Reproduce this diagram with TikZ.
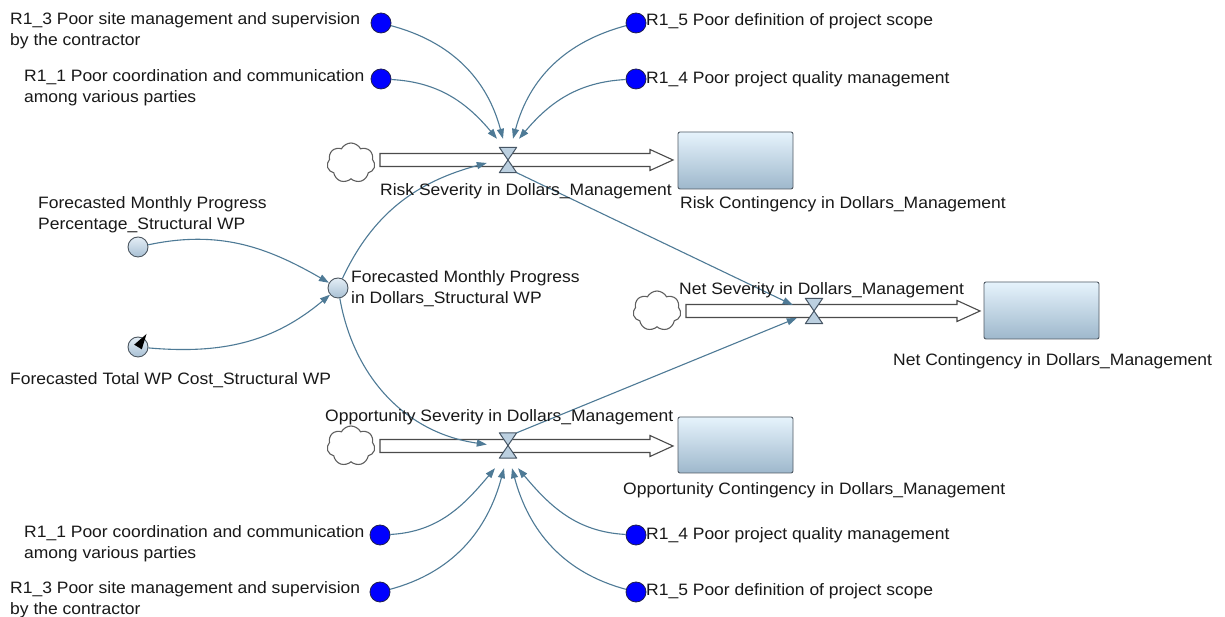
\documentclass[tikz,border=0pt]{standalone}
\usepackage{fontspec}
\setmainfont{Liberation Sans}[FakeStretch=1.06]
\usetikzlibrary{arrows.meta,shapes.symbols,calc}

\definecolor{linkcol}{RGB}{78,122,150}
\definecolor{txtcol}{RGB}{25,25,25}
\definecolor{pipecol}{RGB}{75,75,75}
\definecolor{riskfill}{RGB}{0,0,255}
\definecolor{riskdraw}{RGB}{30,30,80}
\definecolor{auxtop}{RGB}{228,238,246}
\definecolor{auxbot}{RGB}{168,192,212}
\definecolor{auxdraw}{RGB}{75,85,95}
\definecolor{stocktop}{RGB}{230,243,252}
\definecolor{stockbot}{RGB}{158,184,204}
\definecolor{stockdraw}{RGB}{80,90,100}
\definecolor{valvefill}{RGB}{188,208,224}
\definecolor{valvedraw}{RGB}{70,85,100}
\definecolor{cloudcol}{RGB}{95,95,95}

% flow pipe with hollow arrow head: #1 = start on the axis, #2 = tip
\newcommand\drawflowpipe[2]{%
  \draw[pipe] let \p1=(#1), \p2=(#2) in
    (\x1,\y1+6.5pt) -- (\x2-23pt,\y1+6.5pt) -- (\x2-23pt,\y1+10.5pt) -- (\x2,\y1)
    -- (\x2-23pt,\y1-10.5pt) -- (\x2-23pt,\y1-6.5pt) -- (\x1,\y1-6.5pt) -- cycle;}
% hourglass valve drawn inside the frame of node #1
\newcommand\drawvalve[1]{%
  \filldraw[fill=valvefill,draw=valvedraw,line width=1pt,line join=round]
    (#1.north west) -- (#1.north east) -- (#1.south west) -- (#1.south east) -- cycle;}

\begin{document}
\begin{tikzpicture}[x=1pt,y=1pt,
  txt/.style={inner sep=0pt,anchor=base west,align=left,text=txtcol,
              font=\fontsize{16.5}{20.5}\selectfont},
  riskvar/.style={circle,draw=riskdraw,fill=riskfill,minimum size=20pt,inner sep=0pt,line width=0.8pt},
  auxvar/.style={circle,draw=auxdraw,top color=auxtop,bottom color=auxbot,minimum size=20pt,inner sep=0pt,line width=0.9pt},
  stock/.style={rectangle,rounded corners=2pt,draw=stockdraw,top color=stocktop,bottom color=stockbot,
                minimum width=115pt,minimum height=57pt,inner sep=0pt,line width=0.9pt},
  source/.style={cloud,cloud puffs=7,cloud puff arc=125,aspect=1.25,draw=cloudcol,line width=1.1pt,
                 minimum width=48pt,minimum height=40pt,inner sep=0pt},
  valvebox/.style={minimum width=17pt,minimum height=25pt,inner sep=0pt},
  pipe/.style={draw=pipecol,fill=white,line width=1.1pt,line join=miter},
  link/.style={draw=linkcol,line width=1.1pt,-{Triangle[length=10pt,width=7pt]}},
]
\fill[white] (0,0) rectangle (1225,617);
\useasboundingbox (0,0) rectangle (1225,617);

% ---------- stocks, sources and flows ----------
\node[source] (rcl) at (351,454) {};
\node[source] (ncl) at (657,306) {};
\node[source] (ocl) at (351,171) {};

\node[stock] (rs) at (735.5,456.5) {};
\node[stock] (ns) at (1041.5,306.5) {};
\node[stock,minimum height=56pt] (os) at (735.5,172) {};

\coordinate (rp0) at (380,457);  \coordinate (rp1) at (673,457);
\coordinate (np0) at (686,306);  \coordinate (np1) at (980,306);
\coordinate (op0) at (380,171);  \coordinate (op1) at (673,171);
\drawflowpipe{rp0}{rp1}
\drawflowpipe{np0}{np1}
\drawflowpipe{op0}{op1}

\node[valvebox] (rv) at (508,457) {};
\node[valvebox] (nv) at (814,306) {};
\node[valvebox] (ov) at (508,171.5) {};
\drawvalve{rv}
\drawvalve{nv}
\drawvalve{ov}

% ---------- variables ----------
\node[riskvar] (t13) at (381,594) {};
\node[riskvar] (t11) at (381,538) {};
\node[riskvar] (t15) at (636,594) {};
\node[riskvar] (t14) at (636,538) {};
\node[riskvar] (b11) at (380,82) {};
\node[riskvar] (b13) at (380,25) {};
\node[riskvar] (b14) at (636,82) {};
\node[riskvar] (b15) at (636,25) {};

\node[auxvar] (pct) at (138,370) {};
\node[auxvar] (aux) at (338,329) {};
\node[auxvar] (tot) at (138,270) {};
\fill[black] ($(tot)+(3.8,-2.3)$) -- ($(tot)+(8.5,13)$) -- ($(tot)+(-3.8,2.3)$) -- cycle;

% ---------- links ----------
\draw[link] (t13) to[out=-15,in=105] ($(rv.north)+(-5,8.5)$);
\draw[link] (t11) to[out=-3,in=130] ($(rv.north)+(-11,8.5)$);
\draw[link] (t15) to[out=195,in=75] ($(rv.north)+(5,8.5)$);
\draw[link] (t14) to[out=183,in=50] ($(rv.north)+(11,8.5)$);

\draw[link] (b11) to[out=3,in=-130] ($(ov.south)+(-13,-10)$);
\draw[link] (b13) to[out=15,in=-105] ($(ov.south)+(-4,-10)$);
\draw[link] (b15) to[out=165,in=-75] ($(ov.south)+(4,-10)$);
\draw[link] (b14) to[out=177,in=-50] ($(ov.south)+(10,-10)$);

\draw[link] (pct) to[out=12,in=150] (aux);
\draw[link] (tot) to[out=-5,in=-140] (aux);
\draw[link] (aux) to[out=65,in=195] ($(rv.west)+(-12.5,-3)$);
\draw[link] (aux) to[out=-80,in=172] ($(ov.west)+(-12.5,1)$);
\draw[link] (rv.south east) -- ($(nv.west)+(-12.5,6)$);
\draw[link] (ov.north east) -- ($(nv.west)+(-8.5,-7)$);

% ---------- labels (base anchor = baseline of the last line) ----------
\node[txt] (lt13) at (10,571.5) {R1\_3 Poor site management and supervision\\by the contractor};
\node[txt] (lt11) at (24,514.5) {R1\_1 Poor coordination and communication\\among various parties};
\node[txt] (lt15) at (646,591) {R1\_5 Poor definition of project scope};
\node[txt] (lt14) at (646,533) {R1\_4 Poor project quality management};

\node[txt] (lpct) at (38,387.5) {Forecasted Monthly Progress\\Percentage\_Structural WP};
\node[txt] (laux) at (351,313.5) {Forecasted Monthly Progress\\in Dollars\_Structural WP};
\node[txt] (ltot) at (10,232) {Forecasted Total WP Cost\_Structural WP};

\node[txt] (lrv) at (380,421) {Risk Severity in Dollars\_Management};
\node[txt] (lrs) at (680,408) {Risk Contingency in Dollars\_Management};
\node[txt] (lnv) at (679,322) {Net Severity in Dollars\_Management};
\node[txt] (lns) at (893,251) {Net Contingency in Dollars\_Management};
\node[txt] (lov) at (325,195) {Opportunity Severity in Dollars\_Management};
\node[txt] (los) at (623,122) {Opportunity Contingency in Dollars\_Management};

\node[txt] (lb11) at (24,58.5) {R1\_1 Poor coordination and communication\\among various parties};
\node[txt] (lb13) at (10,2.5) {R1\_3 Poor site management and supervision\\by the contractor};
\node[txt] (lb14) at (646,77) {R1\_4 Poor project quality management};
\node[txt] (lb15) at (646,21) {R1\_5 Poor definition of project scope};
\end{tikzpicture}
\end{document}
